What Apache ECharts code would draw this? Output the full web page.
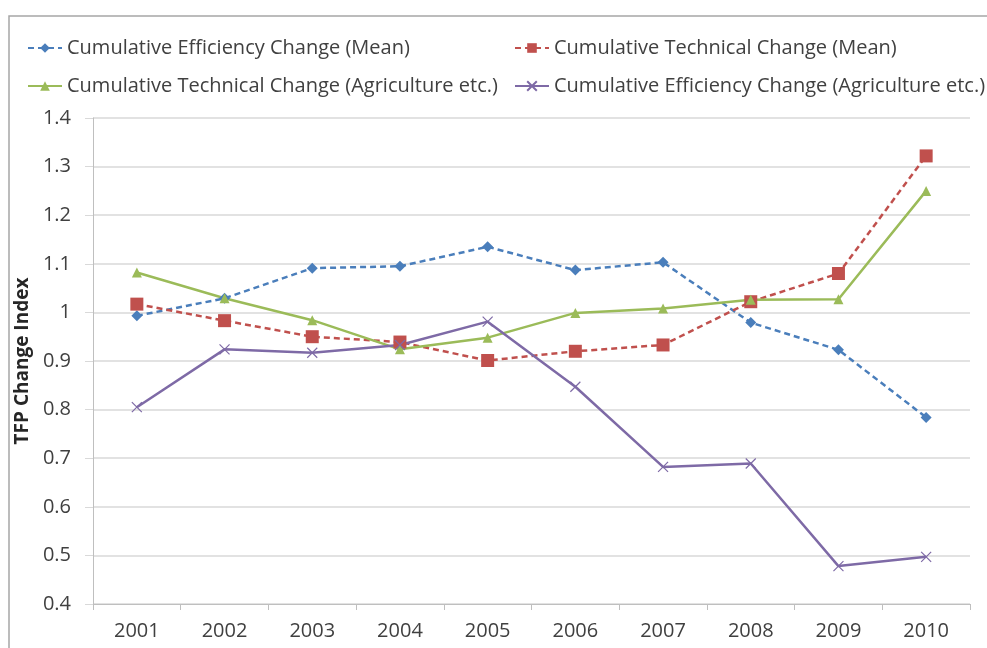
<!DOCTYPE html>
<html lang="en">
<head>
	<meta charset="UTF-8">
	<title>TFP Change Index</title>
	<script src="https://cdn.jsdelivr.net/npm/echarts@6/dist/echarts.min.js"></script>
	<style>
		html, body { margin: 0; padding: 0; background: #fff; }
		#main { width: 987px; height: 648px; }
	</style>
</head>
<body>
	<div id="main"></div>
<script>
// 数据
var years = ['2001', '2002', '2003', '2004', '2005', '2006', '2007', '2008', '2009', '2010'];
var effMean = [0.993, 1.029, 1.091, 1.095, 1.135, 1.087, 1.103, 0.979, 0.923, 0.784];
var techMean = [1.017, 0.983, 0.950, 0.939, 0.901, 0.920, 0.933, 1.022, 1.080, 1.322];
var techAgri = [1.082, 1.029, 0.984, 0.924, 0.948, 0.999, 1.008, 1.026, 1.027, 1.250];
var effAgri = [0.805, 0.924, 0.917, 0.933, 0.981, 0.847, 0.682, 0.689, 0.478, 0.497];

var names = [
	'Cumulative Efficiency Change (Mean)',
	'Cumulative Technical Change (Mean)',
	'Cumulative Technical Change (Agriculture etc.)',
	'Cumulative Efficiency Change (Agriculture etc.)'
];

var font = '"Open Sans", Lato, sans-serif';
var textColor = '#404040';

var chart = echarts.init(document.getElementById('main'));

function legendAt(name, left, top) {
	return {
		data: [name],
		left: left,
		top: top,
		padding: 0,
		itemWidth: 34,
		itemHeight: 12,
		textStyle: { fontFamily: font, fontSize: 20, color: textColor }
	};
}

var option = {
	animation: false,
	// 外框
	graphic: [{
		type: 'rect',
		shape: { x: 9, y: 16, width: 1100, height: 800 },
		style: { fill: 'none', stroke: '#a6a6a6', lineWidth: 1.5 },
		silent: true
	}],
	legend: [
		legendAt(names[0], 27, 38),
		legendAt(names[1], 514, 38),
		legendAt(names[2], 27, 76),
		legendAt(names[3], 514, 76)
	],
	grid: { left: 93, right: 17, top: 118, bottom: 44 },
	xAxis: {
		type: 'category',
		data: years,
		boundaryGap: true,
		axisLine: { lineStyle: { color: '#bfbfbf', width: 1 } },
		axisTick: { show: true, length: 6, lineStyle: { color: '#bfbfbf' } },
		axisLabel: { fontFamily: font, fontSize: 20, color: textColor, margin: 17 }
	},
	yAxis: {
		type: 'value',
		min: 0.4,
		max: 1.4,
		interval: 0.1,
		name: 'TFP Change Index',
		nameLocation: 'middle',
		nameGap: 51,
		nameTextStyle: { fontFamily: font, fontSize: 19, fontWeight: 'bold', color: '#262626' },
		axisLine: { show: true, lineStyle: { color: '#bfbfbf', width: 1 } },
		axisTick: { show: true, length: 8, lineStyle: { color: '#d9d9d9' } },
		axisLabel: {
			fontFamily: font, fontSize: 20, color: textColor, margin: 22,
			formatter: function (v) { return String(Math.round(v * 10) / 10); }
		},
		splitLine: { lineStyle: { color: '#d9d9d9', width: 1.5 } }
	},
	series: [
		{
			name: names[0],
			type: 'line',
			data: effMean,
			symbol: 'diamond',
			symbolSize: 11,
			color: '#4a7ebb',
			lineStyle: { width: 2.5, type: [6, 4] }
		},
		{
			name: names[1],
			type: 'line',
			data: techMean,
			symbol: 'rect',
			symbolSize: 13,
			color: '#c0504d',
			lineStyle: { width: 2.5, type: [6, 4] }
		},
		{
			name: names[2],
			type: 'line',
			data: techAgri,
			symbol: 'triangle',
			symbolSize: 10,
			color: '#9bbb59',
			lineStyle: { width: 2.5 }
		},
		{
			name: names[3],
			type: 'line',
			data: effAgri,
			symbol: 'path://M0,0L10,10M10,0L0,10',
			symbolSize: 10,
			color: '#7e6aa6',
			itemStyle: { borderColor: '#7e6aa6', borderWidth: 1.2 },
			lineStyle: { width: 2.5 }
		}
	]
};

chart.setOption(option);
</script>
</body>
</html>
